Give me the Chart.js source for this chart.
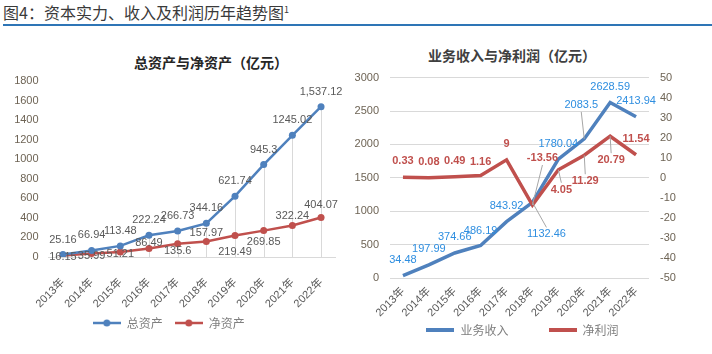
<!DOCTYPE html>
<html>
<head>
<meta charset="utf-8">
<script src="https://cdn.jsdelivr.net/npm/chart.js@4.4.0/dist/chart.umd.min.js"></script>
<style>
body{margin:0;background:#fff;width:712px;height:354px;overflow:hidden;position:relative;font-family:"Noto Sans CJK SC",sans-serif;}
#head{position:absolute;left:3px;top:0px;font-size:16px;color:#3a3a3a;white-space:nowrap;}
#head sup{font-size:9px;}
#rule{position:absolute;left:3px;right:0;top:24px;height:2px;background:#2e75b6;}
.ttl{position:absolute;font-weight:bold;font-size:14px;color:#262626;transform:translate(-50%,-50%);white-space:nowrap;}
#box1{position:absolute;left:0;top:30px;width:350px;height:324px;}
#box2{position:absolute;left:355px;top:30px;width:335px;height:324px;}
</style>
</head>
<body>
<div id="head">图4：资本实力、收入及利润历年趋势图<sup>1</sup></div>
<div id="rule"></div>
<div class="ttl" style="left:211px;top:62px;">总资产与净资产（亿元）</div>
<div class="ttl" style="left:512px;top:55px;color:#404040;">业务收入与净利润（亿元）</div>
<div id="box1"><canvas id="assetChart"></canvas></div>
<div id="box2"><canvas id="incomeChart"></canvas></div>
<script>
// Data
const years=['2013年','2014年','2015年','2016年','2017年','2018年','2019年','2020年','2021年','2022年'];
const totalAssets=[25.16,66.94,113.48,222.24,266.73,344.16,621.74,945.3,1245.02,1537.12];
const netAssets=[16.15,35.99,51.21,86.49,135.6,157.97,219.49,269.85,322.24,404.07];
const revenue=[34.48,197.99,374.66,486.19,843.92,1132.46,1780.04,2083.5,2628.59,2413.94];
const netProfit=[0.33,0.08,0.49,1.16,9,-13.56,4.05,11.29,20.79,11.54];

const BLUE='#4f81bd', RED='#c0504d';
const NUM_FONT='"Liberation Sans","Noto Sans CJK SC",sans-serif';
const CJK_FONT='"Noto Sans CJK SC",sans-serif';
const tickColor='#6e6455';

// label offsets [dx, dy, leader line]
const totalOff=years.map(()=>[0,-15]);
const netOff=[[0,2],[0,2],[0,2],[0,-6],[0,7],[0,-9],[0,16],[0,11],[0,-10],[0,-13]];
const revOff=[[0,-16],[0,-16],[0,-16],[0,-15],[0,-16],[14,32,true],[0,-15],[-3,-34,true],[0,-16],[0,-16]];
const profitOff=[[0,-16],[0,-16],[0,-16],[0,-14],[0,-16],[10,-47,true],[3,20,true],[1,26,true],[1,24,true],[0,-16]];

function fmtTotal(v,i){return i===totalAssets.length-1?v.toLocaleString('en-US',{minimumFractionDigits:2}):String(v);}

// legend key: line with optional dot
function legendKey(color,dot,lw){
  const c=document.createElement('canvas');c.width=28;c.height=10;
  const x=c.getContext('2d');
  x.strokeStyle=color;x.lineWidth=lw;x.beginPath();x.moveTo(0,5);x.lineTo(28,5);x.stroke();
  if(dot){x.fillStyle=color;x.beginPath();x.arc(14,5,3.5,0,Math.PI*2);x.fill();}
  return c;
}

// data labels drawn at the points the scales give
function makeLabels(sets){
  return {id:'ptLabels',afterDatasetsDraw(chart){
    const ctx=chart.ctx;
    ctx.save();
    sets.forEach(s=>{
      const meta=chart.getDatasetMeta(s.ds);
      const vals=chart.data.datasets[s.ds].data;
      ctx.font=s.font;ctx.fillStyle=s.color;ctx.textAlign='center';ctx.textBaseline='middle';
      meta.data.forEach((p,i)=>{
        const o=s.off[i];
        const x=p.x+o[0], y=p.y+o[1];
        if(o[2]){
          ctx.save();ctx.strokeStyle='#a6a6a6';ctx.lineWidth=1;ctx.beginPath();
          ctx.moveTo(p.x,p.y);ctx.lineTo(x,o[1]>0?y-7:y+7);ctx.stroke();ctx.restore();
        }
        ctx.fillText(s.fmt(vals[i],i),x,y);
      });
    });
    ctx.restore();
  }};
}

// drop lines from total-assets points to the axis
const dropLines={id:'dropLines',beforeDatasetsDraw(chart){
  const ctx=chart.ctx, meta=chart.getDatasetMeta(0), yb=chart.scales.y.getPixelForValue(0);
  ctx.save();ctx.strokeStyle='#d9d9d9';ctx.lineWidth=1;
  meta.data.forEach(p=>{const px=Math.round(p.x)+0.5;ctx.beginPath();ctx.moveTo(px,p.y);ctx.lineTo(px,yb);ctx.stroke();});
  ctx.restore();
}};

// let the rotated year labels run below the (thin) x axis box
const noLabelClip={id:'noLabelClip',afterLayout(chart){chart.scales.x._computeLabelArea=()=>undefined;}};

function legendItems(dot,lw){
  return function(chart){
    return chart.data.datasets.map((ds,i)=>({text:ds.label,datasetIndex:i,pointStyle:legendKey(ds.borderColor,dot,lw),
      fillStyle:ds.borderColor,strokeStyle:ds.borderColor,lineWidth:0,hidden:false,fontColor:'#7f7f7f'}));
  };
}

const plainTick=v=>String(v);

// Left chart
new Chart(document.getElementById('assetChart'),{
  type:'line',
  data:{labels:years,datasets:[
    {label:'总资产',data:totalAssets,borderColor:BLUE,backgroundColor:BLUE,borderWidth:2.5,pointRadius:3.5,pointBackgroundColor:BLUE,pointBorderWidth:0,tension:0},
    {label:'净资产',data:netAssets,borderColor:RED,backgroundColor:RED,borderWidth:2.5,pointRadius:3.5,pointBackgroundColor:RED,pointBorderWidth:0,tension:0}
  ]},
  options:{
    responsive:true,maintainAspectRatio:false,animation:false,
    layout:{padding:{top:51,right:12.4,bottom:15,left:0}},
    plugins:{
      title:{display:false},tooltip:{enabled:false},
      legend:{position:'bottom',labels:{usePointStyle:true,pointStyleWidth:28,padding:12,color:'#7f7f7f',font:{family:CJK_FONT,size:12},generateLabels:legendItems(true,2.5)}}
    },
    scales:{
      x:{offset:true,grid:{display:false,drawTicks:false},border:{display:true,color:'#d9d9d9'},
        ticks:{minRotation:45,maxRotation:45,padding:19,color:'#595959',font:{family:NUM_FONT,size:11}},
        afterFit(s){s.height=48;}},
      y:{min:0,max:1800,grid:{display:false,drawTicks:false},border:{display:false},
        ticks:{stepSize:200,padding:10,color:tickColor,font:{family:NUM_FONT,size:11},callback:plainTick},
        afterFit(s){s.width=48.6;}}
    }
  },
  plugins:[noLabelClip,dropLines,makeLabels([
    {ds:0,off:totalOff,color:'#595959',font:'11px '+NUM_FONT,fmt:fmtTotal},
    {ds:1,off:netOff,color:'#595959',font:'11px '+NUM_FONT,fmt:v=>String(v)}
  ])]
});

// Right chart
new Chart(document.getElementById('incomeChart'),{
  type:'line',
  data:{labels:years,datasets:[
    {label:'业务收入',data:revenue,yAxisID:'y',borderColor:BLUE,backgroundColor:BLUE,borderWidth:3.5,pointRadius:0,tension:0,order:2},
    {label:'净利润',data:netProfit,yAxisID:'y1',borderColor:RED,backgroundColor:RED,borderWidth:3.5,pointRadius:0,tension:0,order:1}
  ]},
  options:{
    responsive:true,maintainAspectRatio:false,animation:false,
    layout:{padding:{top:47.7,right:0,bottom:8,left:0}},
    plugins:{
      title:{display:false},tooltip:{enabled:false},
      legend:{position:'bottom',labels:{usePointStyle:true,pointStyleWidth:28,padding:40,color:'#7f7f7f',font:{family:CJK_FONT,size:12},
        generateLabels:legendItems(false,4),sort:(a,b)=>a.datasetIndex-b.datasetIndex}}
    },
    scales:{
      x:{offset:true,grid:{display:false,drawTicks:false},border:{display:false},
        ticks:{minRotation:45,maxRotation:45,padding:7,color:'#595959',font:{family:NUM_FONT,size:11}},
        afterFit(s){s.height=6;}},
      y:{position:'left',min:0,max:3000,grid:{color:'#d9d9d9',drawTicks:false},border:{display:false},
        ticks:{stepSize:500,padding:11,color:tickColor,font:{family:NUM_FONT,size:11},callback:plainTick},
        afterFit(s){s.width=35;}},
      y1:{position:'right',min:-50,max:50,grid:{display:false,drawTicks:false},border:{display:false},
        ticks:{stepSize:10,padding:11,color:tickColor,font:{family:NUM_FONT,size:11},callback:plainTick},
        afterFit(s){s.width=41;}}
    }
  },
  plugins:[noLabelClip,makeLabels([
    {ds:0,off:revOff,color:'#2e8ee0',font:'11px '+NUM_FONT,fmt:v=>String(v)},
    {ds:1,off:profitOff,color:RED,font:'bold 11px '+NUM_FONT,fmt:v=>String(v)}
  ])]
});
</script>
</body>
</html>
